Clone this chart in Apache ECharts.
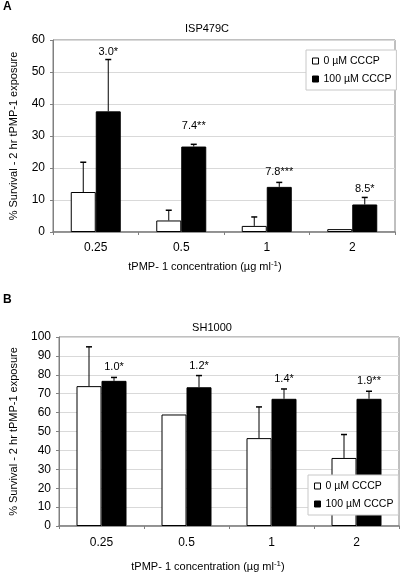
<!DOCTYPE html>
<html><head><meta charset="utf-8">
<script src="https://cdn.jsdelivr.net/npm/echarts@6/dist/echarts.min.js"></script>
<style>html,body{margin:0;padding:0;background:#fff}#c{width:400px;height:575px}</style>
</head><body><div id="c"></div>
<script>
// ---- data ----
const categories = ['0.25', '0.5', '1', '2'];
const seriesNames = ['0 µM CCCP', '100 µM CCCP'];
const yTicksA = [0, 10, 20, 30, 40, 50, 60];
const yTicksB = [0, 10, 20, 30, 40, 50, 60, 70, 80, 90, 100];

// Panel A: ISP479C
const aCtrl = [12.5, 3.6, 1.9, 0.9];
const aCtrlErr = [9.3, 3.2, 2.8, 0];
const aCccp = [37.7, 26.7, 14.1, 8.6];
const aCccpErr = [16.2, 0.7, 1.4, 2.2];
const aFold = ['3.0*', '7.4**', '7.8***', '8.5*'];

// Panel B: SH1000
const bCtrl = [74, 59, 46.5, 36];
const bCtrlErr = [20.8, 0, 16.5, 12.4];
const bCccp = [76.8, 73.4, 67.3, 67.3];
const bCccpErr = [1.8, 6.2, 5.2, 4.0];
const bFold = ['1.0*', '1.2*', '1.4*', '1.9**'];

const titleA = 'ISP479C';
const titleB = 'SH1000';
const yName = '% Survival - 2 hr tPMP-1 exposure';

// ---- styling ----
const FONT = 'Liberation Sans, Arial, sans-serif';
const HALF = 12.5; // half bar width
const labelExtraA = [0, 10, 2, 0];

function errRender(offset, labels, lift, extra) {
  return function (params, api) {
    const i = api.value(0), mean = api.value(1), err = api.value(2);
    const base = api.coord([i, mean]);
    const top = api.coord([i, mean + err]);
    const x = base[0] + offset;
    const ch = [];
    if (err > 0) {
      ch.push({type: 'line', shape: {x1: x, y1: base[1], x2: x, y2: top[1]}, style: {stroke: '#000', lineWidth: 1}});
      ch.push({type: 'line', shape: {x1: x - 3, y1: top[1], x2: x + 3, y2: top[1]}, style: {stroke: '#000', lineWidth: 1.5}});
    }
    if (labels) {
      ch.push({type: 'text', x: x, y: top[1] - lift - (extra ? extra[i] : 0),
        style: {text: labels[i], fill: '#000', font: '11px ' + FONT, align: 'center', verticalAlign: 'middle'}});
    }
    return {type: 'group', children: ch};
  };
}
function errData(vals, errs) { return vals.map((v, i) => [i, v, errs[i]]); }

const gridA = {left: 41, top: 40, width: 354, height: 192};
const gridB = {left: 47, top: 337, width: 352, height: 189};

function xAxis(gi, margin, nameGap, shift) {
  return {
    type: 'category', gridIndex: gi, data: categories,
    axisLine: {lineStyle: {color: '#808080', width: 1.5}},
    axisTick: {show: true, alignWithLabel: false, length: 3, lineStyle: {color: '#808080'}},
    axisLabel: {color: '#000', fontSize: 12, fontFamily: FONT, margin: margin},
    name: 'tPMP- 1 concentration (µg ml{sup|-1})',
    nameLocation: 'middle', nameGap: nameGap,
    nameTextStyle: {color: '#000', fontSize: 11, fontFamily: FONT, padding: [0, shift, 0, 0],
      rich: {sup: {fontSize: 8, fontFamily: FONT, color: '#000', padding: [0, 0, 6, 0]}}}
  };
}
function yAxis(gi, max, nameGap) {
  return {
    type: 'value', gridIndex: gi, min: 0, max: max, interval: 10,
    axisLine: {show: true, lineStyle: {color: '#808080'}},
    axisTick: {show: true, length: 3, lineStyle: {color: '#808080'}},
    axisLabel: {color: '#000', fontSize: 12, fontFamily: FONT, margin: 8},
    splitLine: {lineStyle: {color: '#d9d9d9'}},
    name: yName, nameLocation: 'middle', nameRotate: 90, nameGap: nameGap,
    nameTextStyle: {color: '#000', fontSize: 11, fontFamily: FONT}
  };
}
function bars(gi, ctrl, cccp) {
  return [
    {type: 'bar', name: seriesNames[0], xAxisIndex: gi, yAxisIndex: gi, data: ctrl, barWidth: 25, barGap: '0%',
      itemStyle: {color: '#fff', borderColor: '#000', borderWidth: 1}, z: 2},
    {type: 'bar', name: seriesNames[1], xAxisIndex: gi, yAxisIndex: gi, data: cccp, barWidth: 25, barGap: '0%',
      itemStyle: {color: '#000', borderColor: '#000', borderWidth: 1}, z: 2}
  ];
}
function legend(gi, left, top) {
  return {
    orient: 'vertical', left: left, top: top, padding: [5, 5, 5, 6], itemGap: 6, itemTextGap: 3,
    itemWidth: 6, itemHeight: 6, icon: 'rect',
    backgroundColor: '#fff', borderColor: '#c8c8c8', borderWidth: 1,
    textStyle: {color: '#000', fontSize: 10.5, fontFamily: FONT, lineHeight: 12},
    itemStyle: {borderColor: '#000', borderWidth: 1},
    data: [{name: seriesNames[0], itemStyle: {color: '#fff', borderColor: '#000', borderWidth: 1}},
           {name: seriesNames[1], itemStyle: {color: '#000', borderColor: '#000', borderWidth: 1}}],
    selectedMode: false, z: 10
  };
}

const chart = echarts.init(document.getElementById('c'), null, {renderer: 'canvas'});
chart.setOption({
  animation: false,
  textStyle: {fontFamily: FONT},
  grid: [Object.assign({show: true, borderColor: '#808080', borderWidth: 1, backgroundColor: 'transparent'}, gridA),
         Object.assign({show: true, borderColor: '#808080', borderWidth: 1, backgroundColor: 'transparent'}, gridB)],
  xAxis: [xAxis(0, 10, 28, 38), xAxis(1, 11, 34, 42)],
  yAxis: [yAxis(0, 60, 34), yAxis(1, 100, 40)],
  legend: [legend(0, 306, 50), legend(1, 308, 475)],
  graphic: [
    {type: 'text', left: 3, top: 1, style: {text: 'A', font: 'bold 12px ' + FONT, fill: '#000'}},
    {type: 'text', left: 3, top: 294, style: {text: 'B', font: 'bold 12px ' + FONT, fill: '#000'}},
    {type: 'text', x: 207, y: 29, style: {text: titleA, font: '11px ' + FONT, fill: '#000', align: 'center', verticalAlign: 'middle'}},
    {type: 'text', x: 212, y: 328, style: {text: titleB, font: '11px ' + FONT, fill: '#000', align: 'center', verticalAlign: 'middle'}}
  ],
  series: [
    ...bars(0, aCtrl, aCccp),
    ...bars(1, bCtrl, bCccp),
    {type: 'custom', xAxisIndex: 0, yAxisIndex: 0, renderItem: errRender(-HALF, null, 0), data: errData(aCtrl, aCtrlErr), z: 5, silent: true},
    {type: 'custom', xAxisIndex: 0, yAxisIndex: 0, renderItem: errRender(HALF, aFold, 8, labelExtraA), data: errData(aCccp, aCccpErr), z: 5, silent: true},
    {type: 'custom', xAxisIndex: 1, yAxisIndex: 1, renderItem: errRender(-HALF, null, 0), data: errData(bCtrl, bCtrlErr), z: 5, silent: true},
    {type: 'custom', xAxisIndex: 1, yAxisIndex: 1, renderItem: errRender(HALF, bFold, 10), data: errData(bCccp, bCccpErr), z: 5, silent: true}
  ]
});
</script></body></html>
